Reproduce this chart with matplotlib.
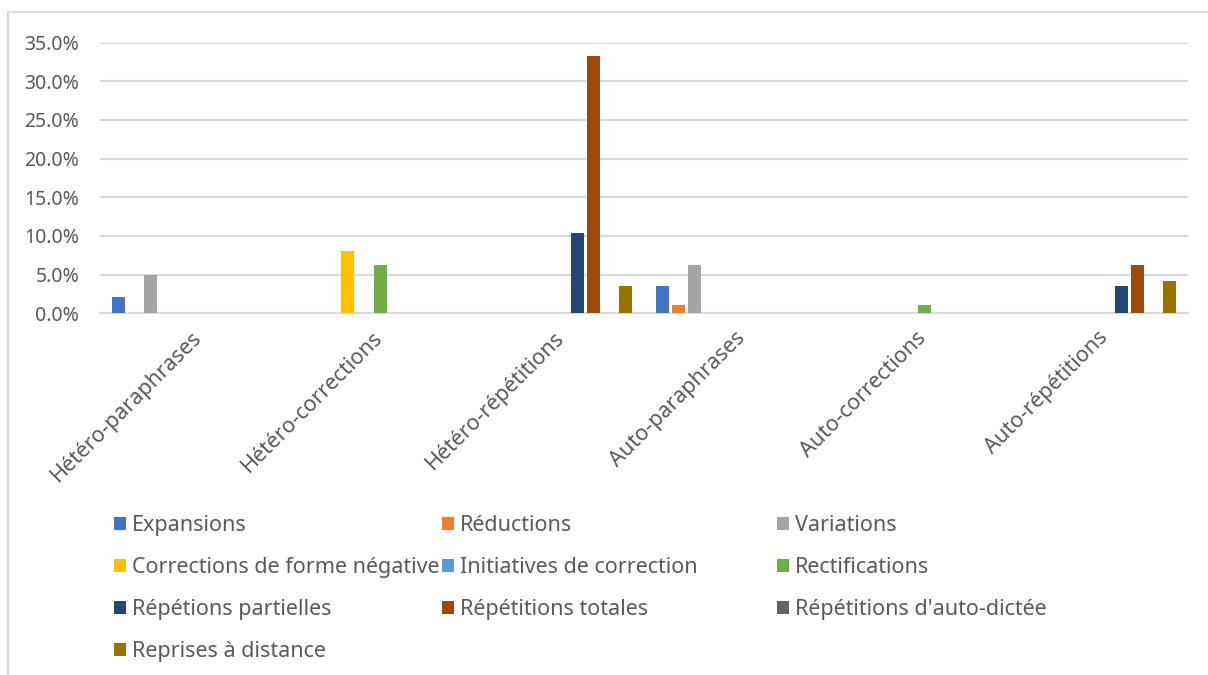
import matplotlib
matplotlib.use("Agg")
import matplotlib.pyplot as plt
from matplotlib.patches import Rectangle, Patch
from matplotlib.ticker import FuncFormatter, MultipleLocator
import numpy as np

plt.rcParams['font.family'] = ['Noto Sans', 'DejaVu Sans']

categories = ["Hétéro-paraphrases", "Hétéro-corrections", "Hétéro-répétitions",
              "Auto-paraphrases", "Auto-corrections", "Auto-répétitions"]

series_names = ["Expansions", "Réductions", "Variations",
                "Corrections de forme négative", "Initiatives de correction", "Rectifications",
                "Répétions partielles", "Répétitions totales", "Répétitions d'auto-dictée",
                "Reprises à distance"]

expansions = [2.1, 0, 0, 3.5, 0, 0]
reductions = [0, 0, 0, 1.1, 0, 0]
variations = [4.9, 0, 0, 6.3, 0, 0]
corrections_neg = [0, 8.0, 0, 0, 0, 0]
initiatives = [0, 0, 0, 0, 0, 0]
rectifications = [0, 6.3, 0, 0, 1.1, 0]
rep_partielles = [0, 0, 10.4, 0, 0, 3.5]
rep_totales = [0, 0, 33.3, 0, 0, 6.3]
rep_autodictee = [0, 0, 0, 0, 0, 0]
reprises = [0, 0, 3.5, 0, 0, 4.2]

series_values = [expansions, reductions, variations, corrections_neg, initiatives,
                 rectifications, rep_partielles, rep_totales, rep_autodictee, reprises]

colors = ["#4472C4", "#ED7D31", "#A5A5A5", "#FFC000", "#5B9BD5", "#70AD47",
          "#264478", "#9E480E", "#636363", "#997300"]

W, H = 1208, 675
fig = plt.figure(figsize=(W / 100, H / 100), dpi=100)
fig.patch.set_facecolor("white")

# outer chart border
fig.add_artist(Rectangle((8 / W, -0.1), 1.2, 1 - 12 / H + 0.1, transform=fig.transFigure,
                         fill=False, edgecolor="#D9D9D9", linewidth=1.5))

ax = fig.add_axes([100 / W, 1 - 313.3 / H, (1188 - 100) / W, (313.3 - 42.5) / H])

x = np.arange(len(categories))
n = len(series_names)
step = 16 / 181.3
bw = 13 / 181.3
for i, (vals, c) in enumerate(zip(series_values, colors)):
    offs = (i - (n - 1) / 2) * step
    ax.bar(x + offs, vals, width=bw, color=c, zorder=3)

ax.set_xlim(-0.5, len(categories) - 0.5)
ax.set_ylim(0, 35)
ax.yaxis.set_major_locator(MultipleLocator(5))
ax.yaxis.set_major_formatter(FuncFormatter(lambda v, p: f"{v:.1f}%"))
ax.grid(axis="y", color="#D9D9D9", linewidth=1.5, zorder=0)
for s in ["top", "right", "left"]:
    ax.spines[s].set_visible(False)
ax.spines["bottom"].set_color("#D9D9D9")
ax.spines["bottom"].set_linewidth(1.5)
ax.tick_params(axis="both", length=0, labelcolor="#595959")
ax.tick_params(axis="y", pad=15, labelsize=14)
ax.set_xticks(x)
ax.set_xticklabels(categories, rotation=45, ha="right", va="top", rotation_mode="anchor",
                   fontsize=15.5)
ax.tick_params(axis="x", pad=10)

# legend: three fixed-position columns, row-major order
col_x = [114 / W, 442 / W, 777 / W]
for c in range(3):
    idx = list(range(c, n, 3))
    handles = [Patch(facecolor=colors[i], edgecolor="none") for i in idx]
    labels = [series_names[i] for i in idx]
    fig.legend(handles, labels, loc="upper left", bbox_to_anchor=(col_x[c], 1 - 515 / H),
               frameon=False, fontsize=15.5, labelcolor="#595959",
               handlelength=0.55, handleheight=0.55, handletextpad=0.3,
               labelspacing=0.97, borderaxespad=0, borderpad=0)

fig.savefig("out.png", dpi=100, facecolor="white")
